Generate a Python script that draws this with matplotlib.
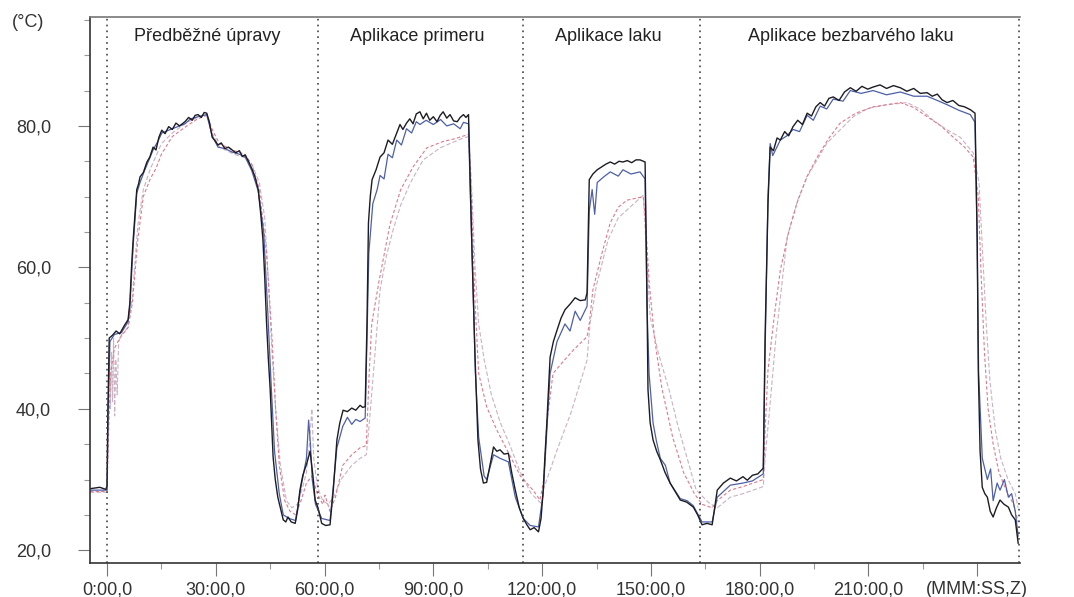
import numpy as np
import matplotlib
matplotlib.use('Agg')
from matplotlib import pyplot as plt
from matplotlib.ticker import MultipleLocator, FixedLocator

plt.rcParams['font.family'] = ['Liberation Sans', 'DejaVu Sans']

# time in minutes, temperature in degC
black_pts = [(-4.7, 28.7), (-2, 28.9), (-0.3, 28.6), (0, 29.2), (0.2, 38.5), (0.6, 50.0), (1.5, 50.4), (2.5, 51.0),
             (3.5, 50.6), (4.8, 51.8), (5.8, 52.6), (6.3, 55.0), (6.8, 60.5), (7.2, 63.9), (7.7, 67.5), (8.2, 71.0),
             (8.7, 71.8), (9.1, 72.8), (10, 73.4), (11, 74.9), (11.8, 75.6), (12.7, 77.0), (13.5, 76.6), (14.3, 78.4),
             (15.1, 79.4), (16, 78.9), (17, 79.9), (18, 79.5), (19, 80.4), (20, 80.0), (21.5, 80.6), (22.5, 81.2),
             (23.5, 80.8), (24.3, 81.5), (25.1, 81.6), (26, 81.2), (26.8, 81.9), (27.5, 81.8), (28.2, 80.6), (29, 78.4),
             (29.8, 77.9), (30.6, 77.3), (31.5, 77.6), (32.5, 76.8), (33.5, 77.0), (34.5, 76.6), (35.5, 76.2),
             (36.5, 76.5), (37.3, 75.7), (38.1, 75.9), (39, 75.0), (39.9, 74.0), (40.8, 72.8), (41.7, 71.0),
             (42.4, 67.5), (43, 63.9), (43.5, 58.5), (44, 52.1), (44.5, 47.0), (45, 42.7), (45.4, 38.0), (45.8, 33.2),
             (46.4, 30.0), (47.1, 27.5), (47.8, 26.0), (48.6, 24.3), (49.3, 24.0), (49.9, 24.7), (50.8, 24.0),
             (51.9, 23.8), (52.6, 25.8), (53.2, 28.5), (54, 30.6), (55.1, 32.3), (56, 34.0), (56.8, 30.5), (57.4, 27.1),
             (58.2, 26.0), (59.2, 23.8), (60.3, 23.5), (61.5, 23.6), (62.4, 28.5), (63.4, 35.6), (64.2, 38.0),
             (65.1, 39.8), (66.3, 39.6), (67.5, 40.1), (68.6, 39.8), (69.8, 40.5), (70.5, 40.2), (71.2, 40.3),
             (71.7, 52.1), (72.1, 66.3), (72.6, 70.0), (73.1, 72.4), (74.2, 73.8), (75.3, 75.6), (76.4, 76.2),
             (77.5, 78.0), (78.7, 77.4), (79.9, 79.0), (80.8, 80.2), (81.6, 79.5), (82.6, 80.4), (83.5, 81.0),
             (84.4, 80.3), (85.3, 81.7), (86.3, 82.0), (87.2, 81.0), (88.1, 81.8), (89, 80.8), (90, 81.3), (91, 80.6),
             (91.9, 81.5), (92.7, 82.0), (93.7, 81.1), (94.6, 81.6), (95.6, 80.7), (96.6, 80.6), (97.4, 81.2),
             (98.3, 81.6), (99, 81.2), (99.7, 81.6), (100.1, 73.4), (100.7, 61.5), (101.5, 47.3), (102.3, 35.6),
             (103, 31.5), (103.8, 29.5), (104.7, 29.6), (105.6, 32.0), (106.6, 34.6), (107.5, 34.0), (108.4, 34.2),
             (109.5, 33.6), (110.7, 33.7), (111.6, 31.0), (112.6, 28.5), (113.7, 26.0), (114.8, 24.5), (115.8, 23.6),
             (116.7, 22.9), (117.8, 23.2), (119, 22.6), (119.7, 24.5), (120.3, 28.5), (120.8, 33.5), (121.3, 38.0),
             (122.2, 47.3), (123.1, 49.5), (124.1, 51.1), (125.2, 52.8), (126.3, 54.0), (127.7, 54.8), (129.1, 55.7),
             (130.5, 55.3), (131.9, 55.4), (132.4, 56.4), (133, 72.4), (134, 73.2), (135.2, 73.8), (136.4, 74.2),
             (137.6, 74.6), (138.8, 74.9), (140, 74.6), (141.2, 75.0), (142.3, 74.9), (143.5, 75.1), (144.7, 74.8),
             (145.9, 75.2), (147, 75.2), (148.4, 74.9), (148.9, 56.8), (149.2, 42.7), (149.8, 38.0), (150.6, 35.6),
             (151.6, 34.0), (152.6, 32.8), (153.9, 31.0), (155.3, 29.5), (156.7, 28.3), (158.1, 27.1), (159.9, 26.8),
             (161.7, 26.1), (162.9, 25.0), (164.1, 23.6), (165.5, 23.8), (166.9, 23.6), (168.3, 28.5), (170, 29.5),
             (171.9, 30.2), (173.6, 29.8), (175.4, 30.4), (176.6, 29.9), (178, 30.6), (179.5, 30.8), (181, 31.6),
             (181.5, 50.2), (182.3, 69.1), (182.9, 77.0), (183.8, 76.5), (184.8, 78.3), (185.7, 78.0), (186.9, 79.2),
             (188, 78.6), (189.2, 79.9), (190.5, 80.8), (191.8, 80.2), (193.1, 81.8), (194.3, 81.4), (195.5, 82.7),
             (196.7, 83.3), (197.9, 82.8), (199.1, 83.9), (200.3, 84.1), (201.9, 83.6), (203.4, 84.8), (205, 85.4),
             (206.6, 84.9), (208.2, 85.6), (209.8, 85.2), (211.3, 85.5), (213.2, 85.8), (215, 85.3), (216.9, 85.7),
             (218.8, 85.4), (220.6, 84.9), (222.5, 85.3), (224.3, 84.6), (226.2, 84.7), (227.6, 84.2), (229, 84.5),
             (230.3, 83.7), (231.7, 83.3), (233.3, 83.6), (234.9, 82.9), (236.5, 82.7), (238.1, 82.3), (239.4, 81.8),
             (240, 64.3), (240.3, 45.5), (240.8, 34.0), (241.4, 28.9), (242.1, 28.0), (242.8, 27.5), (243.6, 25.5),
             (244.4, 24.7), (245.3, 26.0), (246.3, 27.1), (247.4, 26.5), (248.6, 26.1), (249.5, 25.0), (250.5, 24.3),
             (251.3, 21.0)]

blue_pts = [(-4.7, 28.5), (0, 28.5), (0.3, 40.0), (0.8, 49.5), (2, 50.5), (4, 50.8), (5.8, 52.3), (6.3, 54.5),
            (7.2, 63.0), (8.2, 70.5), (9.1, 72.0), (10.2, 73.5), (11, 74.5), (12.7, 76.6), (14, 77.8), (15.1, 79.0),
            (18, 79.6), (21.5, 80.3), (23, 81.0), (25.1, 81.3), (27.5, 81.6), (29, 78.6), (30.6, 77.0), (32.5, 76.8),
            (34.5, 76.3), (36.5, 76.0), (38.1, 75.6), (39.9, 73.7), (41.7, 70.8), (43.2, 65.0), (44.3, 54.0),
            (45.3, 43.0), (46.2, 34.0), (47.5, 28.0), (48.6, 25.0), (50.2, 24.5), (52, 24.2), (53.5, 29.0),
            (55, 33.0), (55.6, 38.4), (56.1, 35.0), (56.6, 30.0), (57.5, 26.5), (59.2, 24.5), (61.5, 24.2),
            (62.4, 29.0), (63.4, 34.5), (65, 37.5), (66.3, 38.8), (67.5, 37.8), (68.6, 38.5), (69.8, 38.2),
            (71.2, 38.7), (71.7, 50.0), (72.2, 62.0), (73.3, 69.0), (74.5, 71.0), (75.3, 73.0), (76.4, 72.5),
            (77.5, 76.0), (78.7, 75.5), (79.9, 78.0), (81.2, 77.3), (82.6, 79.6), (84, 79.0), (85.3, 80.6),
            (86.3, 80.2), (88, 80.8), (90, 80.2), (92, 80.9), (93.7, 80.0), (95.6, 80.3), (97.4, 79.6), (98.3, 80.5),
            (99.7, 80.3), (100.1, 72.0), (100.8, 60.0), (101.6, 45.0), (102.5, 36.0), (104, 30.5), (104.7, 30.0),
            (106.6, 33.5), (108.4, 33.0), (110.7, 32.5), (112.6, 27.5), (114.8, 24.5), (116.7, 23.5), (119, 23.3),
            (120.3, 28.0), (121.3, 37.0), (122.2, 45.0), (124.1, 49.5), (126.3, 52.0), (127.7, 51.0), (129.1, 53.8),
            (130.5, 52.5), (131.9, 54.0), (132.4, 54.5), (133, 68.0), (133.8, 71.0), (134.5, 67.5), (135.2, 72.0),
            (137, 72.8), (138.8, 73.5), (141, 72.9), (142.3, 73.8), (144.5, 73.2), (147, 73.5), (148.4, 72.5),
            (148.9, 55.0), (149.5, 45.0), (150.6, 38.0), (151.5, 35.5), (152.6, 33.0), (154, 32.0), (155.3, 29.5),
            (158.1, 27.3), (160, 27.0), (161.7, 26.3), (164.1, 24.0), (166.9, 24.0), (168.3, 27.5), (171.9, 29.2),
            (175.4, 29.5), (178, 29.8), (181, 30.8), (181.5, 48.0), (182.3, 70.0), (182.9, 77.5), (183.6, 75.8),
            (185.7, 78.0), (187.5, 78.6), (189.2, 79.5), (191, 79.2), (193.1, 81.5), (194.8, 80.8), (196.7, 82.8),
            (198.5, 82.4), (200.3, 83.8), (203, 83.5), (205, 85.0), (208, 84.6), (211.3, 85.0), (215, 84.4),
            (218.8, 84.8), (222.5, 84.2), (226.2, 84.2), (229, 83.6), (231.7, 83.0), (235, 82.2), (238.1, 81.6),
            (239.4, 80.5), (240, 63.0), (240.4, 45.0), (241, 38.0), (241.4, 33.0), (242.8, 30.0), (243.7, 31.5),
            (244.4, 27.0), (245.5, 29.5), (246.3, 28.5), (247.5, 30.0), (248.6, 27.5), (249.5, 28.0), (250.5, 25.5),
            (251.3, 22.0)]

red_pts = [(-4.7, 28.3), (0, 28.3), (0.5, 38.0), (1, 45.0), (2, 48.5), (3.5, 50.0), (5.8, 51.5), (7, 55.0),
           (8.5, 64.0), (10, 70.0), (11.9, 72.5), (13.5, 74.0), (15, 76.0), (18, 78.5), (22, 80.0), (25, 81.0),
           (27.5, 81.5), (29, 79.5), (31, 77.5), (35, 76.5), (38, 76.0), (40, 74.5), (42, 71.0), (44, 62.0),
           (45.5, 50.0), (46.5, 40.0), (47.5, 32.0), (49, 27.0), (50.5, 25.5), (52, 25.0), (53.5, 27.0),
           (55, 29.5), (56.5, 30.5), (58, 28.0), (59.5, 26.5), (60.1, 27.8), (61.5, 25.5), (63, 27.5), (65, 32.0),
           (67.5, 33.5), (69.8, 34.5), (71.5, 34.8), (72.3, 45.0), (73, 52.0), (75, 58.0), (78, 66.0), (81, 71.0),
           (84.4, 74.2), (88.2, 76.9), (92.7, 77.8), (96, 78.2), (99.7, 78.8), (100.5, 70.0), (101.5, 55.0),
           (102.5, 45.0), (104.7, 40.3), (107.5, 37.0), (110.3, 34.2), (114, 30.5), (117.5, 28.5), (119.4, 27.1),
           (120.5, 30.0), (121.3, 38.0), (123, 45.0), (125.5, 46.5), (128.6, 48.3), (132.4, 50.2), (133, 52.0),
           (134, 56.8), (136.5, 62.0), (138.8, 66.3), (141, 68.5), (143.4, 69.5), (147.9, 70.0), (148.6, 66.0),
           (149.5, 58.0), (151, 50.0), (153, 43.0), (156, 36.0), (159, 31.0), (162, 28.0), (164.1, 26.5),
           (166.9, 26.0), (168.3, 27.0), (171.9, 28.5), (175.4, 29.0), (181, 30.0), (181.5, 37.0), (182.3, 45.5),
           (184, 53.0), (185.7, 59.6), (188, 65.0), (190.3, 69.1), (193, 72.8), (195.9, 75.6), (199, 78.2),
           (202.2, 80.4), (206.5, 81.8), (211.3, 82.7), (218.8, 83.3), (222.5, 82.6), (226.2, 81.3), (230, 80.0),
           (233.4, 78.4), (236.5, 77.0), (238.9, 75.6), (240.3, 70.0), (241, 60.0), (242, 48.0), (243, 40.0),
           (244.4, 35.0), (246, 31.0), (248, 28.5), (250, 26.5), (251.3, 24.0)]

light_pts = [(-4.7, 28.2), (0, 28.2), (0.3, 38.0), (0.6, 49.0), (0.9, 40.0), (1.2, 48.0), (1.5, 41.0), (1.8, 50.0),
             (2.1, 39.0), (2.4, 47.0), (2.8, 42.0), (3.2, 49.5), (4, 50.5), (5.8, 51.5), (7, 56.0), (8.5, 66.0),
             (10, 71.0), (12, 74.0), (15, 77.5), (18, 79.0), (22, 80.5), (25, 81.2), (27.5, 81.7), (29, 79.0),
             (31, 77.0), (35, 76.0), (38, 75.5), (40, 74.5), (42, 72.0), (43.5, 67.0), (44.5, 58.0), (45.5, 48.0),
             (46.5, 40.0), (47.8, 32.0), (49.5, 27.0), (51, 26.0), (52.5, 26.5), (54, 29.0), (55, 31.0), (55.8, 35.0),
             (56.5, 40.0), (57, 33.0), (58, 29.0), (59.5, 27.0), (61, 26.5), (62.5, 27.5), (64.5, 30.0), (67.5, 32.0),
             (69.8, 33.0), (71.5, 33.5), (72, 36.0), (73.1, 42.7), (75.3, 56.8), (77, 61.5), (78.9, 65.3),
             (81, 68.8), (83.6, 71.9), (87.2, 75.2), (91.9, 76.9), (95, 77.6), (98.3, 78.3), (99.8, 78.5),
             (100.5, 72.0), (101.5, 60.0), (102.5, 52.0), (104, 47.0), (106, 42.0), (108.5, 38.0), (111, 35.0),
             (114, 31.0), (117, 28.0), (120, 26.5), (120.3, 28.5), (124, 34.0), (128, 39.5), (132.4, 46.9),
             (133.2, 52.0), (135, 57.5), (138.2, 63.9), (141, 67.0), (145.5, 69.1), (147.9, 70.2), (149.8, 53.0),
             (152, 48.0), (155, 42.7), (157.5, 37.5), (160, 33.0), (162.5, 28.5), (166, 26.7), (168.3, 26.0),
             (171.9, 27.5), (175.4, 28.0), (181, 29.0), (181.5, 33.0), (182.9, 40.8), (184.5, 50.2), (187.6, 64.3),
             (190.5, 69.5), (193.1, 72.8), (198.6, 77.6), (205.8, 81.3), (210, 82.5), (215.2, 83.0), (220.7, 83.3),
             (224.5, 82.3), (227.9, 80.8), (231.5, 79.5), (235.3, 78.4), (238.9, 76.2), (240.5, 72.0),
             (241.5, 62.0), (242.5, 52.0), (243.5, 44.0), (245, 37.0), (246.5, 33.0), (248.5, 30.0), (250.5, 28.0),
             (251.3, 26.0)]

phase_edges = [0, 58.2, 114.8, 163.6, 251.4]
phase_names = ['Předběžné úpravy', 'Aplikace primeru', 'Aplikace laku', 'Aplikace bezbarvého laku']
phase_label_x = [27.6, 85.5, 138.2, 205.2]

x_ticks = [0, 30, 60, 90, 120, 150, 180, 210, 240]
x_labels = ['0:00,0', '30:00,0', '60:00,0', '90:00,0', '120:00,0', '150:00,0', '180:00,0', '210:00,0', '(MMM:SS,Z)']
y_ticks = [20, 40, 60, 80]
y_labels = ['20,0', '40,0', '60,0', '80,0']

fig = plt.figure(figsize=(10.74, 5.97), dpi=100)
ax = fig.add_axes([0.0838, 0.057, 0.8659, 0.9145])

series = [(light_pts, '#c9b2c4', 0.8, (0, (4, 2))),
          (red_pts, '#de7a8c', 0.8, (0, (3, 2))),
          (blue_pts, '#4d5fa8', 0.9, '-'),
          (black_pts, '#1c1c24', 1.0, '-')]
for pts, col, lw, ls in series:
    t, temp = np.array(pts).T
    ax.plot(t, temp, color=col, lw=lw, ls=ls)

for xe in phase_edges:
    ax.axvline(xe, color='#444444', lw=1.2, ls=(0, (1, 2.5)))

for name, xl in zip(phase_names, phase_label_x):
    ax.text(xl, 92.7, name, ha='center', va='center', fontsize=13, color='#222222')

fig.text(0.011, 0.963, '(°C)', fontsize=13, color='#333333', va='center', ha='left')

ax.set_xlim(-4.7, 251.8)
ax.set_ylim(18.2, 95.4)
ax.xaxis.set_major_locator(FixedLocator(x_ticks))
ax.set_xticklabels(x_labels)
ax.xaxis.set_minor_locator(MultipleLocator(15))
ax.yaxis.set_major_locator(FixedLocator(y_ticks))
ax.set_yticklabels(y_labels)
ax.yaxis.set_minor_locator(MultipleLocator(5))

ax.tick_params(axis='both', which='major', length=9, width=0.8, color='#777777', labelsize=13,
               labelcolor='#333333')
ax.tick_params(axis='both', which='minor', length=4, width=0.8, color='#999999')
ax.tick_params(axis='y', which='major', pad=19)
ax.tick_params(axis='x', which='major', pad=4)

ax.spines['right'].set_visible(False)
ax.spines['top'].set_color('#777777')
ax.spines['top'].set_linewidth(1.2)
ax.spines['left'].set_color('#333333')
ax.spines['bottom'].set_color('#333333')
ax.spines['left'].set_linewidth(1.2)
ax.spines['bottom'].set_linewidth(1.2)

fig.savefig('out.png', dpi=100)
